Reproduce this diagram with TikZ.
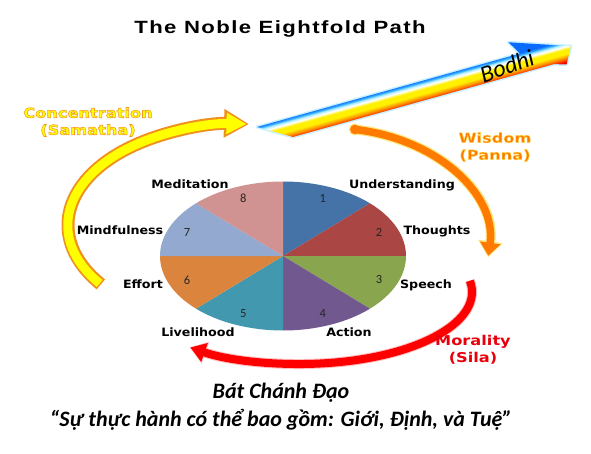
\documentclass[tikz,border=0pt]{standalone}
\usepackage{fontspec}
\setmainfont{Carlito}
\newfontfamily\titlefont[FakeStretch=1.25,LetterSpace=8]{Liberation Sans}
\newfontfamily\labelfont[FakeStretch=1.1]{DejaVu Sans}
\newfontfamily\glowfont[FakeStretch=1.2]{DejaVu Sans}
\usepackage{xcolor}
\usepackage{tikz}
\usetikzlibrary{arrows.meta, calc}

\definecolor{sliceblue}{HTML}{4572A7}
\definecolor{slicered}{HTML}{AA4643}
\definecolor{slicegreen}{HTML}{89A54E}
\definecolor{slicepurple}{HTML}{71588F}
\definecolor{sliceteal}{HTML}{4198AF}
\definecolor{sliceorange}{HTML}{DB843D}
\definecolor{slicesky}{HTML}{93A9CF}
\definecolor{slicepink}{HTML}{D19392}
\definecolor{concedge}{HTML}{F0901E}
\definecolor{concfill}{HTML}{FFFF00}
\definecolor{wisorange}{HTML}{FF7A00}
\definecolor{wisedge}{HTML}{FFE680}
\definecolor{moralred}{HTML}{FF0000}
\definecolor{moraltext}{HTML}{E8000B}
\definecolor{bodhiblue}{HTML}{0A6CFF}
\definecolor{bodhisky}{HTML}{3FB8FF}
\definecolor{bodhicyan}{HTML}{B0ECFF}
\definecolor{bodhiyellow}{HTML}{FFF000}
\definecolor{bodhiorange}{HTML}{FF9000}
\definecolor{bodhired}{HTML}{F00000}

\pgfdeclareverticalshading{bodhi}{100bp}{color(0bp)=(bodhired); color(28bp)=(bodhired); color(34bp)=(bodhiorange); color(39bp)=(bodhiyellow); color(45bp)=(bodhiyellow); color(49bp)=(white); color(52bp)=(bodhicyan); color(54bp)=(bodhisky); color(57bp)=(bodhiblue); color(100bp)=(bodhiblue)}

% text filled and stroked with a rim colour (width, r g b)
\newcommand\rimtext[3]{\special{pdf:literal direct 2 Tr #1 w #2 RG}#3\special{pdf:literal direct 0 Tr}}

\begin{document}
\begin{tikzpicture}[x=1pt, y=-1pt, inner sep=0pt,
  slicelabel/.style={font=\labelfont\bfseries\fontsize{11.5}{14}\selectfont, anchor=base},
  slicenum/.style={font=\fontsize{12.5}{14}\selectfont, text=black!85},
  glowtext/.style={font=\glowfont\bfseries\fontsize{13.5}{17}\selectfont, align=center},
  concrim/.style={draw=concedge, line width=13pt, -{Triangle[length=25pt, width=27pt]}},
  concbody/.style={draw=concfill, line width=9pt, -{Triangle[length=20pt, width=20pt]}, shorten >=2.5pt, shorten <=1.5pt},
  wisrim/.style={draw=wisedge, line width=10pt, -{Triangle[length=16pt, width=24pt]}},
  wisbody/.style={draw=wisorange, line width=7.5pt, -{Triangle[length=13pt, width=20pt]}, shorten >=1.5pt},
  morrim/.style={draw=moralred!25, line width=10pt, -{Triangle[length=17pt, width=22pt]}},
  morbody/.style={draw=moralred, line width=8pt, -{Triangle[length=15pt, width=19pt]}, shorten >=1pt}
]
  \useasboundingbox (0,0) rectangle (591,454);

  % Title
  \node[font=\titlefont\bfseries\fontsize{17.7}{20}\selectfont, anchor=base] (title) at (280,33.5) {The Noble Eightfold Path};

  % Bodhi arrow
  \begin{scope}[transform canvas={shift={(257,127)}, rotate=15.6}]
    \draw[bodhicyan!70, line width=3pt, line join=round] (0,0) -- (273,0) -- (265,-14) -- (324,6.5) -- (315,23) -- (303,19.3) -- (32,19.3) -- cycle;
    \shade[shading=bodhi] (0,0) -- (273,0) -- (265,-14) -- (324,6.5) -- (315,23) -- (303,19.3) -- (32,19.3) -- cycle;
  \end{scope}
  \node[font=\itshape\fontsize{24}{26}\selectfont, rotate=20] (bodhi) at (507,66) {Bodhi};

  % Pie with eight slices
  \coordinate (pie) at (283,256);
  \foreach \c [count=\i] in {sliceblue,slicered,slicegreen,slicepurple,sliceteal,sliceorange,slicesky,slicepink} {
    \pgfmathsetmacro{\sa}{-135+45*\i}
    \pgfmathsetmacro{\ea}{\sa+45}
    \pgfmathsetmacro{\ma}{\sa+22.5}
    \fill[\c] (pie) -- ++(\sa:123 and 74.5) arc[start angle=\sa, end angle=\ea, x radius=123, y radius=74.5] -- cycle;
    \node[slicenum] (num\i) at ($(pie)+(\ma:104 and 62.5)$) {\i};
  }

  % Slice labels
  \node[slicelabel] (understanding) at (402,188.5) {Understanding};
  \node[slicelabel] (thoughts) at (437,234) {Thoughts};
  \node[slicelabel] (speech) at (426,288.5) {Speech};
  \node[slicelabel] (action) at (349,336.5) {Action};
  \node[slicelabel] (livelihood) at (198,336) {Livelihood};
  \node[slicelabel] (effort) at (143,288) {Effort};
  \node[slicelabel] (mindfulness) at (120,234) {Mindfulness};
  \node[slicelabel] (meditation) at (190,188.5) {Meditation};

  % Concentration arrow
  \coordinate (concC) at (240,225);
  \coordinate (concStart) at ($(concC)+(144:172 and 101)$);
  \draw[concrim] (concStart) arc[start angle=144, end angle=273, x radius=172, y radius=101];
  \draw[concbody] (concStart) arc[start angle=144, end angle=273, x radius=172, y radius=101];

  % Wisdom arrow
  \coordinate (wisC) at (330,245);
  \coordinate (wisStart) at ($(wisC)+(-81:159 and 117)$);
  \draw[wisrim] (wisStart) arc[start angle=-81, end angle=6, x radius=159, y radius=117];
  \filldraw[fill=wisorange, draw=wisedge, line width=1pt] (wisStart) circle (5.5);
  \draw[wisbody] (wisStart) arc[start angle=-81, end angle=6, x radius=159, y radius=117];

  % Morality arrow
  \coordinate (morC) at (300,292);
  \coordinate (morStart) at ($(morC)+(-9:172 and 72)$);
  \draw[morrim] (morStart) arc[start angle=-9, end angle=130, x radius=172, y radius=72];
  \draw[morbody] (morStart) arc[start angle=-9, end angle=130, x radius=172, y radius=72];

  % Outlined labels
  \node[glowtext, text=concfill] (conclabel) at (88,122)
    {\rimtext{0.55}{0.95 0.6 0.15}{Concentration}\\\rimtext{0.55}{0.95 0.6 0.15}{(Samatha)}};
  \node[glowtext, text=wisorange] (wislabel) at (495,147)
    {\rimtext{0.5}{1 0.85 0.3}{Wisdom}\\\rimtext{0.5}{1 0.85 0.3}{(Panna)}};
  \node[glowtext, text=moraltext] (morlabel) at (473,350)
    {Morality\\(Sila)};

  % Caption
  \node[font=\bfseries\itshape\fontsize{22}{26}\selectfont, anchor=base] (caption) at (281,398) {Bát Chánh Đạo};
  \node[font=\bfseries\itshape\fontsize{22}{26}\selectfont, anchor=base] (subcaption) at (281,426) {“Sự thực hành có thể bao gồm: Giới, Định, và Tuệ”};
\end{tikzpicture}
\end{document}
